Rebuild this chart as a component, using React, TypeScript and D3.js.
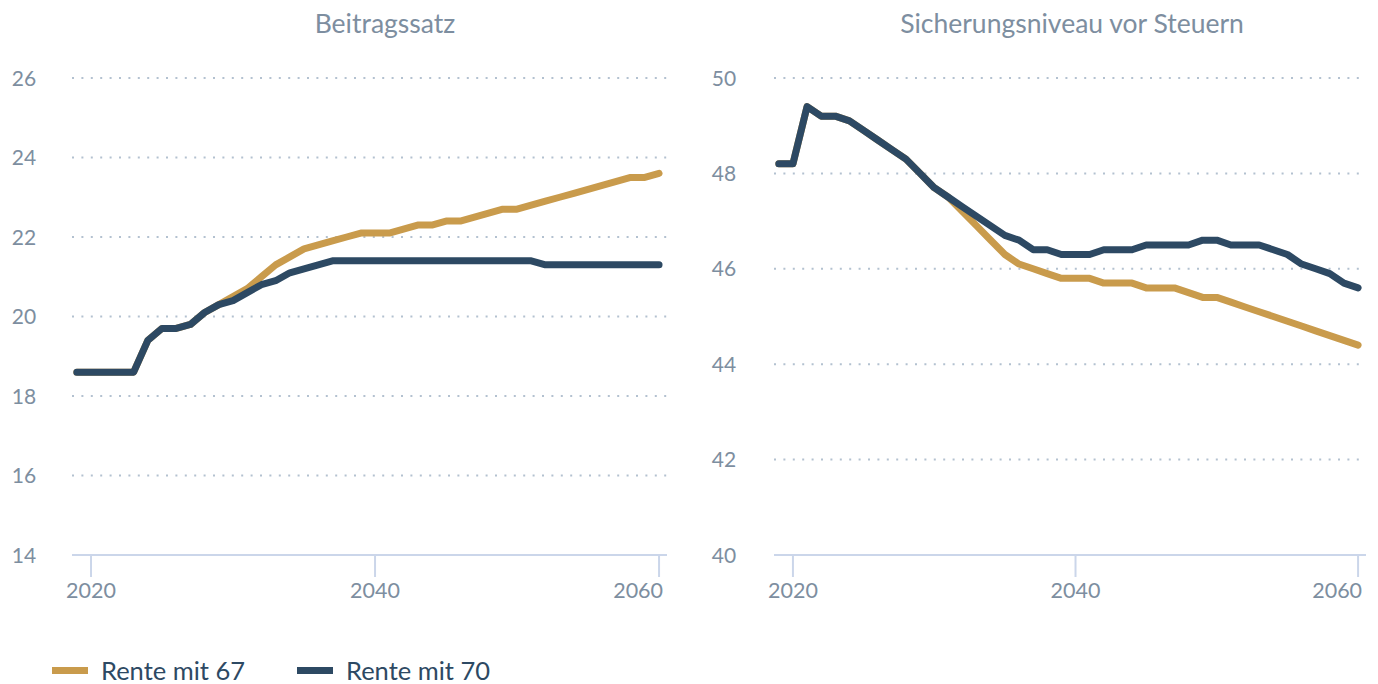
import React from "react";
import * as d3 from "d3";

// Beitragssatz und Sicherungsniveau, Rente mit 67 vs. Rente mit 70

const years = d3.range(2019, 2061);

const beitrag67 = [
  18.6, 18.6, 18.6, 18.6, 18.6, 19.4, 19.7, 19.7, 19.8, 20.1,
  20.3, 20.5, 20.7, 21.0, 21.3, 21.5, 21.7, 21.8, 21.9, 22.0,
  22.1, 22.1, 22.1, 22.2, 22.3, 22.3, 22.4, 22.4, 22.5, 22.6,
  22.7, 22.7, 22.8, 22.9, 23.0, 23.1, 23.2, 23.3, 23.4, 23.5,
  23.5, 23.6,
];
const beitrag70 = [
  18.6, 18.6, 18.6, 18.6, 18.6, 19.4, 19.7, 19.7, 19.8, 20.1,
  20.3, 20.4, 20.6, 20.8, 20.9, 21.1, 21.2, 21.3, 21.4, 21.4,
  21.4, 21.4, 21.4, 21.4, 21.4, 21.4, 21.4, 21.4, 21.4, 21.4,
  21.4, 21.4, 21.4, 21.3, 21.3, 21.3, 21.3, 21.3, 21.3, 21.3,
  21.3, 21.3,
];
const niveau67 = [
  48.2, 48.2, 49.4, 49.2, 49.2, 49.1, 48.9, 48.7, 48.5, 48.3,
  48.0, 47.7, 47.5, 47.2, 46.9, 46.6, 46.3, 46.1, 46.0, 45.9,
  45.8, 45.8, 45.8, 45.7, 45.7, 45.7, 45.6, 45.6, 45.6, 45.5,
  45.4, 45.4, 45.3, 45.2, 45.1, 45.0, 44.9, 44.8, 44.7, 44.6,
  44.5, 44.4,
];
const niveau70 = [
  48.2, 48.2, 49.4, 49.2, 49.2, 49.1, 48.9, 48.7, 48.5, 48.3,
  48.0, 47.7, 47.5, 47.3, 47.1, 46.9, 46.7, 46.6, 46.4, 46.4,
  46.3, 46.3, 46.3, 46.4, 46.4, 46.4, 46.5, 46.5, 46.5, 46.5,
  46.6, 46.6, 46.5, 46.5, 46.5, 46.4, 46.3, 46.1, 46.0, 45.9,
  45.7, 45.6,
];

const xTicks = [2020, 2040, 2060];
const beitragTicks = [14, 16, 18, 20, 22, 24, 26];
const niveauTicks = [40, 42, 44, 46, 48, 50];

const seriesNames = ["Rente mit 67", "Rente mit 70"];
const colors = ["#c99b4c", "#2d4963"];

const W = 1378;
const H = 684;
const FONT = "Lato, 'Open Sans', sans-serif";
const labelColor = "#7d8ea0";

type PanelProps = {
  title: string;
  titleX: number;
  left: number;
  right: number;
  labelX: number;
  yDomain: [number, number];
  yTicks: number[];
  a: number[];
  b: number[];
};

function Panel({ title, titleX, left, right, labelX, yDomain, yTicks, a, b }: PanelProps) {
  const x = d3.scaleLinear().domain([2018.66, 2060.56]).range([left, right]);
  const y = d3.scaleLinear().domain(yDomain).range([555, 78]);
  const line = d3
    .line<number>()
    .x((_, i) => x(years[i]))
    .y((d) => y(d));

  return (
    <g>
      <text x={titleX} y={33} textAnchor="middle" fontSize={26.5} fill={labelColor}>
        {title}
      </text>
      {yTicks.map((t, i) => (
        <g key={t}>
          {i > 0 && (
            <line
              x1={left}
              x2={right}
              y1={y(t)}
              y2={y(t)}
              stroke="#b3c1d0"
              strokeWidth={2}
              strokeDasharray="2,7.4"
            />
          )}
          <text
            x={labelX}
            y={y(t)}
            dy="0.36em"
            textAnchor="middle"
            fontSize={21}
            fill={labelColor}
          >
            {t}
          </text>
        </g>
      ))}
      <line x1={left} x2={right} y1={555} y2={555} stroke="#cbd6ea" strokeWidth={2} />
      {xTicks.map((t, i) => (
        <g key={t}>
          <line x1={x(t)} x2={x(t)} y1={555} y2={577} stroke="#cbd6ea" strokeWidth={2} />
          <text
            x={i === xTicks.length - 1 ? x(t) + 4 : x(t)}
            y={598}
            textAnchor={i === xTicks.length - 1 ? "end" : "middle"}
            fontSize={21.5}
            fill={labelColor}
          >
            {t}
          </text>
        </g>
      ))}
      <path d={line(a) ?? ""} fill="none" stroke={colors[0]} strokeWidth={7} strokeLinecap="round" strokeLinejoin="round" />
      <path d={line(b) ?? ""} fill="none" stroke={colors[1]} strokeWidth={7} strokeLinecap="round" strokeLinejoin="round" />
    </g>
  );
}

export default function App() {
  return (
    <svg
      width={W}
      height={H}
      style={{ position: "absolute", left: 0, top: 0, display: "block", fontFamily: FONT }}
    >
      <rect width={W} height={H} fill="#ffffff" />
      <Panel
        title="Beitragssatz"
        titleX={385}
        left={72}
        right={667}
        labelX={24}
        yDomain={[14, 26]}
        yTicks={beitragTicks}
        a={beitrag67}
        b={beitrag70}
      />
      <Panel
        title="Sicherungsniveau vor Steuern"
        titleX={1072}
        left={774}
        right={1366}
        labelX={724}
        yDomain={[40, 50]}
        yTicks={niveauTicks}
        a={niveau67}
        b={niveau70}
      />
      {seriesNames.map((name, i) => (
        <g key={name} transform={`translate(${52 + i * 245},0)`}>
          <rect x={0} y={667} width={36} height={7} fill={colors[i]} />
          <text x={49} y={680} fontSize={25.5} fill={colors[1]}>
            {name}
          </text>
        </g>
      ))}
    </svg>
  );
}
